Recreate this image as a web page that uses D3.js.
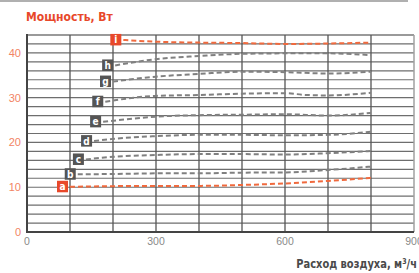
<!DOCTYPE html>
<html>
<head>
<meta charset="utf-8">
<script src="https://cdn.jsdelivr.net/npm/d3@7"></script>
<style>
  body { margin: 0; background: #fff; }
  svg { display: block; }
</style>
</head>
<body>
<svg id="chart" width="419" height="273"></svg>
<script>
// air flow, m3/h
const xTicks = [0, 300, 600, 900];
const yTicks = [0, 10, 20, 30, 40];

// series labels and values
const seriesNames = ["a", "b", "c", "d", "e", "f", "g", "h", "i"];
const seriesX = [
  [100, 300, 400, 500, 600, 700, 800],
  [118, 200, 300, 400, 500, 600, 700, 800],
  [137, 200, 300, 400, 500, 600, 700, 800],
  [156, 200, 300, 400, 500, 600, 700, 800],
  [177, 300, 400, 500, 600, 700, 800],
  [182, 300, 400, 500, 600, 650, 700, 800],
  [200, 300, 400, 500, 600, 700, 800],
  [205, 300, 400, 500, 600, 700, 800],
  [224, 300, 400, 500, 600, 700, 800]
];
const seriesY = [
  [10.1, 10.3, 10.3, 10.5, 10.85, 11.4, 12.1],
  [12.9, 12.95, 13.1, 13.1, 13.25, 13.3, 13.85, 14.6],
  [16.2, 16.8, 17.2, 17.4, 17.4, 17.3, 17.6, 18.1],
  [20.3, 20.8, 21.4, 21.7, 21.7, 21.6, 21.7, 22.4],
  [24.6, 25.75, 26.1, 26.2, 26.3, 26.0, 26.6],
  [29.1, 30.4, 30.6, 30.9, 31.0, 30.6, 30.5, 31.1],
  [33.6, 34.7, 35.3, 35.8, 35.7, 35.4, 35.8],
  [37.2, 38.6, 39.3, 39.8, 39.9, 39.9, 39.5],
  [42.9, 42.5, 42.3, 42.2, 42.0, 42.1, 42.3]
];
const orangeSeries = ["a", "i"];

const svg = d3.select("#chart");
const mLeft = 27, mRight = 414, mTop = 35, mBottom = 232;
const font = "'Liberation Sans Narrow', 'DejaVu Sans Condensed', Arial, sans-serif";

const x = d3.scaleLinear().domain([0, 900]).range([mLeft, mRight]);
const y = d3.scaleLinear().domain([0, 44]).range([mBottom, mTop]);

// thin line across the top of the card
svg.append("line")
  .attr("x1", 0).attr("x2", 408).attr("y1", 1).attr("y2", 1)
  .attr("stroke", "#b0b0b0").attr("stroke-width", 2);

// title
svg.append("text")
  .attr("x", 26).attr("y", 21)
  .style("font-family", font).style("font-size", "12px").style("font-weight", "bold")
  .attr("fill", "#e8482a")
  .text("Мощность, Вт");

// grid: horizontal every 2 W, vertical every 100 m3/h
const g = svg.append("g");
g.selectAll("line.h")
  .data(d3.range(2, 44, 2))
  .enter().append("line")
  .attr("x1", mLeft).attr("x2", mRight)
  .attr("y1", d => y(d)).attr("y2", d => y(d))
  .attr("stroke", "#6e6e6e").attr("stroke-width", 1.2);

g.append("line")
  .attr("x1", mLeft).attr("x2", mRight).attr("y1", y(44)).attr("y2", y(44))
  .attr("stroke", "#9a9a9a").attr("stroke-width", 2);

g.selectAll("line.v")
  .data(d3.range(100, 900, 100))
  .enter().append("line")
  .attr("x1", d => x(d)).attr("x2", d => x(d))
  .attr("y1", mTop).attr("y2", mBottom)
  .attr("stroke", "#555").attr("stroke-width", 1.3);

g.append("line")
  .attr("x1", x(900)).attr("x2", x(900)).attr("y1", mTop).attr("y2", mBottom)
  .attr("stroke", "#a0a0a0").attr("stroke-width", 1.5);

// axes lines
g.append("line")
  .attr("x1", mLeft).attr("x2", mLeft).attr("y1", mTop - 1).attr("y2", mBottom + 1)
  .attr("stroke", "#444").attr("stroke-width", 2);
g.append("line")
  .attr("x1", mLeft).attr("x2", mRight).attr("y1", mBottom).attr("y2", mBottom)
  .attr("stroke", "#444").attr("stroke-width", 2);

// y tick labels
svg.append("g")
  .selectAll("text")
  .data(yTicks)
  .enter().append("text")
  .attr("x", 21).attr("y", d => y(d) + 4)
  .attr("text-anchor", "end")
  .style("font-family", "'Liberation Sans', Arial, sans-serif").style("font-size", "11px")
  .attr("fill", "#f28464")
  .text(d => d);

// x tick labels (the 900 is clipped by the right edge, as in the original)
svg.append("g")
  .selectAll("text")
  .data(xTicks)
  .enter().append("text")
  .attr("x", d => x(d)).attr("y", 245)
  .attr("text-anchor", "middle")
  .style("font-family", "'Liberation Sans', Arial, sans-serif").style("font-size", "10.5px")
  .attr("fill", "#8a8a8a")
  .text(d => d);

// x axis title
const xt = svg.append("text")
  .attr("transform", "translate(417,268) scale(0.88,1)")
  .attr("text-anchor", "end")
  .style("font-family", font).style("font-size", "12.5px").style("font-weight", "bold")
  .attr("fill", "#4a4a4a");
xt.append("tspan").text("Расход воздуха, м");
xt.append("tspan").attr("dy", -4).style("font-size", "8px").text("3");
xt.append("tspan").attr("dy", 4).text("/ч");

// series lines
const line = d3.line()
  .x(d => x(d[0]))
  .y(d => y(d[1]))
  .curve(d3.curveMonotoneX);

seriesNames.forEach(function(name, i) {
  const pts = seriesX[i].map((v, j) => [v, seriesY[i][j]]);
  const orange = orangeSeries.indexOf(name) >= 0;
  svg.append("path")
    .datum(pts)
    .attr("d", line)
    .attr("fill", "none")
    .attr("stroke", orange ? "#f06a3e" : "#808080")
    .attr("stroke-width", 2)
    .attr("stroke-dasharray", "5,3");

  // label box left of the line start
  const bx = x(pts[0][0]) - 2, by = y(pts[0][1]);
  svg.append("rect")
    .attr("x", bx - 11).attr("y", by - 6)
    .attr("width", 11).attr("height", 11.5)
    .attr("fill", orange ? "#e8482a" : "#555");
  svg.append("text")
    .attr("x", bx - 5.5).attr("y", by + 3.5)
    .attr("text-anchor", "middle")
    .style("font-family", font).style("font-size", "10px").style("font-weight", "bold")
    .attr("fill", "#fff")
    .text(name);
});
</script>
</body>
</html>
